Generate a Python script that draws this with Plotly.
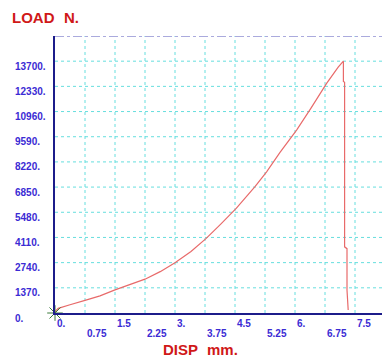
import plotly.graph_objects as go

# Data
disp = [0, 0.03, 0.08, 0.17, 0.375, 0.75, 1.125, 1.5, 1.9, 2.25, 2.63, 3.0, 3.4, 3.78,
        4.15, 4.53, 5.0, 5.29, 5.625, 6.04, 6.4, 6.79, 7.08, 7.17, 7.21,
        7.21, 7.24, 7.24, 7.3, 7.3, 7.33]
load = [0, 150, 250, 320, 450, 690, 930, 1260, 1560, 1840, 2250, 2740, 3350, 4060,
        4850, 5690, 6870, 7680, 8740, 9950, 11150, 12490, 13380, 13640, 13700,
        12600, 12550, 3600, 3500, 1250, 160]

x_tick_vals = [0, 0.75, 1.5, 2.25, 3.0, 3.75, 4.5, 5.25, 6.0, 6.75, 7.5]
x_tick_text = ["0.", "0.75", "1.5", "2.25", "3.", "3.75", "4.5", "5.25", "6.", "6.75", "7.5"]
y_tick_vals = [0, 1370, 2740, 4110, 5480, 6850, 8220, 9590, 10960, 12330, 13700]
y_tick_text = ["0.", "1370.", "2740.", "4110.", "5480.", "6850.", "8220.", "9590.",
               "10960.", "12330.", "13700."]
y_top = 15070
x_max = 8.175

FONT = "Arial, Liberation Sans, sans-serif"
TICK_COLOR = "#3b2bd4"
TITLE_COLOR = "#d01818"
GRID_COLOR = "#66dede"

W, H = 382, 358
ML, MR, MT, MB = 55, 0, 36, 45
pw, ph = W - ML - MR, H - MT - MB


def px(x):
    return (x - ML) / pw


def py(y):
    return (H - MB - y) / ph


fig = go.Figure()

shapes = []
for xv in x_tick_vals[1:]:
    shapes.append(dict(type="line", x0=xv, x1=xv, y0=0, y1=y_top, xref="x", yref="y",
                       line=dict(color=GRID_COLOR, width=1, dash="dot"), layer="below"))
for yv in y_tick_vals[1:]:
    shapes.append(dict(type="line", x0=0, x1=x_max, y0=yv, y1=yv, xref="x", yref="y",
                       line=dict(color=GRID_COLOR, width=1, dash="dot"), layer="below"))
shapes.append(dict(type="line", x0=0, x1=x_max, y0=y_top, y1=y_top, xref="x", yref="y",
                   line=dict(color="#aaaadd", width=2, dash="dashdot")))

fig.add_trace(go.Scatter(x=disp, y=load, mode="lines",
                         line=dict(color="#e86a6a", width=1.2), hoverinfo="skip",
                         cliponaxis=False))
fig.add_trace(go.Scatter(x=[disp[0]], y=[load[0]], mode="markers",
                         marker=dict(symbol="asterisk-open", size=13, color="#3a7a3a",
                                     line=dict(color="#3a7a3a", width=1)),
                         cliponaxis=False, hoverinfo="skip"))

tick_font = dict(family=FONT, size=10, color=TICK_COLOR, weight="bold")
ann = []
for i, (v, t) in enumerate(zip(x_tick_vals, x_tick_text)):
    ann.append(dict(x=v, y=0, xref="x", yref="paper", text=t, showarrow=False,
                    xanchor="left", yanchor="middle", xshift=0,
                    yshift=-10 if i % 2 == 0 else -20, font=tick_font))
for v, t in zip(y_tick_vals, y_tick_text):
    ann.append(dict(x=0, y=v, xref="x", yref="y", text=t, showarrow=False,
                    xanchor="left", yanchor="middle", xshift=-42, yshift=-5,
                    font=tick_font))

title_font = dict(family=FONT, size=15, color=TITLE_COLOR, weight="bold")
titles = [("LOAD", 10, 18), ("N.", 62, 18), ("DISP", 161, 349), ("mm.", 205, 349)]
for t, x, y in titles:
    ann.append(dict(x=px(x), y=py(y), xref="paper", yref="paper", text=t,
                    showarrow=False, xanchor="left", yanchor="middle", font=title_font))

fig.update_layout(
    width=W, height=H,
    margin=dict(l=ML, r=MR, t=MT, b=MB),
    paper_bgcolor="white", plot_bgcolor="white",
    showlegend=False,
    shapes=shapes,
    annotations=ann,
    xaxis=dict(range=[0, x_max], showgrid=False, zeroline=False, showticklabels=False,
               showline=True, linecolor="#1c1c8a", linewidth=2, ticks=""),
    yaxis=dict(range=[0, y_top], showgrid=False, zeroline=False, showticklabels=False,
               showline=True, linecolor="#1c1c8a", linewidth=2, ticks=""),
)

fig.write_html("out.html", config={"displayModeBar": False},
               post_script="document.body.style.margin='0';document.body.style.overflow='hidden';")
